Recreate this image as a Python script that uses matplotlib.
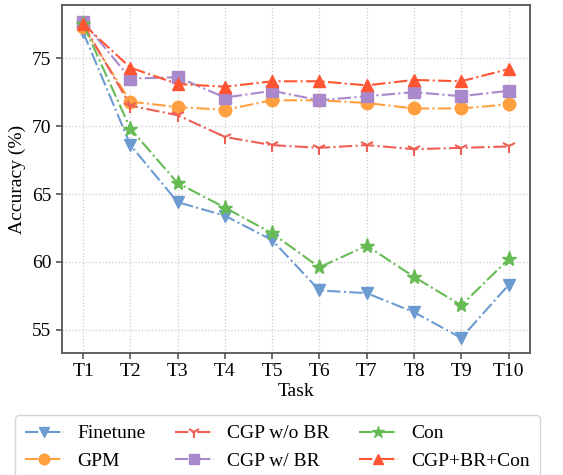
import numpy as np
import matplotlib
matplotlib.use('Agg')
import matplotlib.pyplot as plt

tasks = ['T1', 'T2', 'T3', 'T4', 'T5', 'T6', 'T7', 'T8', 'T9', 'T10']

finetune = [76.9, 68.6, 64.4, 63.4, 61.6, 57.9, 57.7, 56.3, 54.4, 58.3]
gpm = [77.3, 71.8, 71.4, 71.2, 71.9, 71.9, 71.7, 71.3, 71.3, 71.6]
cgp_wo_br = [77.5, 71.5, 70.8, 69.2, 68.6, 68.4, 68.6, 68.3, 68.4, 68.5]
cgp_w_br = [77.7, 73.5, 73.6, 72.1, 72.6, 71.9, 72.2, 72.5, 72.2, 72.6]
con = [77.5, 69.8, 65.8, 64.0, 62.1, 59.6, 61.2, 58.9, 56.8, 60.2]
cgp_br_con = [77.5, 74.3, 73.1, 72.9, 73.3, 73.3, 73.0, 73.4, 73.3, 74.2]

SERIES = [
    ('Finetune', finetune, 'v', '#6C9BD2'),
    ('GPM', gpm, 'o', '#FFA040'),
    ('CGP w/o BR', cgp_wo_br, '1', '#EE6055'),
    ('CGP w/ BR', cgp_w_br, 's', '#AA88CC'),
    ('Con', con, '*', '#66BB55'),
    ('CGP+BR+Con', cgp_br_con, '^', '#FF5533'),
]

plt.rcParams.update({
    'font.family': ['Liberation Serif', 'DejaVu Serif'],
    'font.size': 14,
})

fig = plt.figure(figsize=(5.63, 4.75), dpi=100)
ax = fig.add_axes([0.110, 0.257, 0.831, 0.732])

x = np.arange(len(tasks))
for name, vals, mk, col in SERIES:
    ms = 11 if mk == '*' else (10 if mk == '1' else 9)
    ax.plot(x, vals, linestyle='-.', marker=mk, color=col, label=name,
            linewidth=1.5, markersize=ms, markeredgewidth=1.5 if mk == '1' else 1.0)

ax.set_xticks(x)
ax.set_xticklabels(tasks)
ax.set_yticks([55, 60, 65, 70, 75])
ax.set_ylim(53.3, 78.9)
ax.set_xlim(-0.45, 9.45)
ax.set_xlabel('Task', labelpad=2)
ax.set_ylabel('Accuracy (%)')
ax.grid(True, linestyle=':', color='#cccccc', linewidth=0.9)
for s in ax.spines.values():
    s.set_color('#555555')
    s.set_linewidth(1.3)
ax.tick_params(colors='#555555', labelcolor='black', width=1.2, length=4)

fig.legend(loc='upper left', bbox_to_anchor=(15 / 563, 1 - 415 / 475),
           borderaxespad=0, ncol=3, frameon=True, fancybox=True,
           edgecolor='#cccccc', handlelength=2.0, columnspacing=1.5,
           handletextpad=0.7, borderpad=0.5, labelspacing=0.5,
           markerscale=0.85)

fig.savefig('out.png', dpi=100)
